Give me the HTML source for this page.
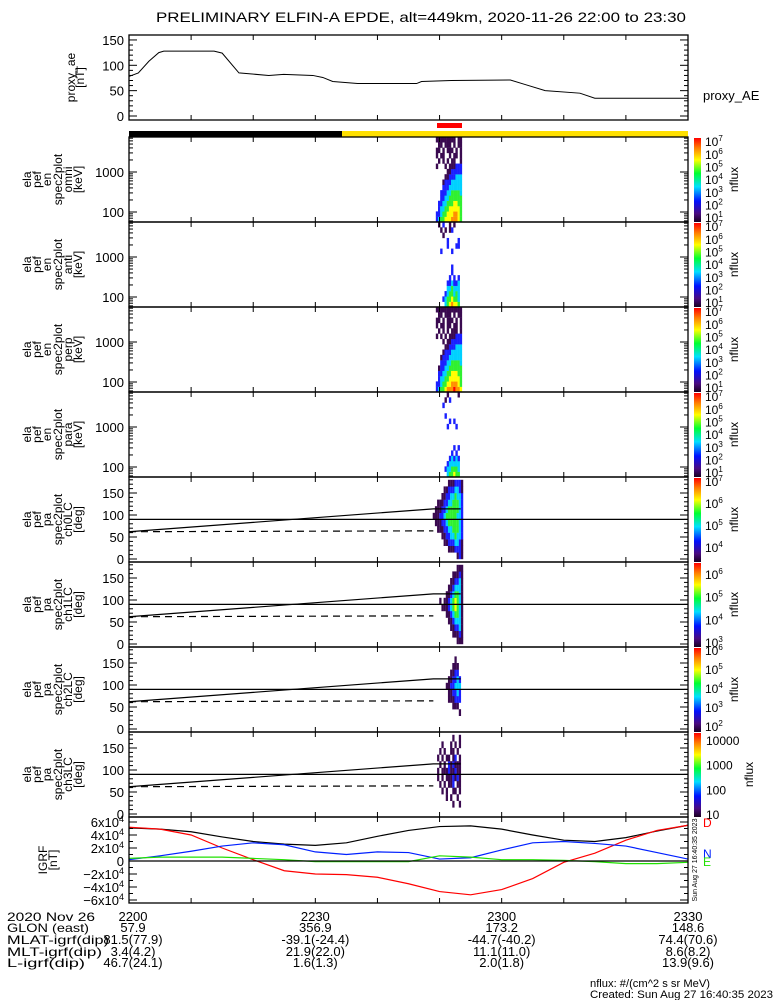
<!DOCTYPE html>
<html><head><meta charset="utf-8"><style>
html,body{margin:0;padding:0;background:#fff;}
svg{display:block;font-family:"Liberation Sans",sans-serif;}
</style></head><body>
<svg id="chart" width="775" height="1000" viewBox="0 0 775 1000" xmlns="http://www.w3.org/2000/svg">
<defs>
<linearGradient id="cbar" x1="0" y1="1" x2="0" y2="0">
<stop offset="0" stop-color="#1a0020"/><stop offset="0.1" stop-color="#4a0a80"/><stop offset="0.25" stop-color="#0010ff"/><stop offset="0.42" stop-color="#00e0ff"/><stop offset="0.58" stop-color="#00ff30"/><stop offset="0.74" stop-color="#ffff00"/><stop offset="0.88" stop-color="#ff8000"/><stop offset="1" stop-color="#ff0000"/>
</linearGradient>
</defs>
</svg>
<script>
// ---------- data ----------
const aeTimes=[0,1.5,3.2,4.8,5.6,13.7,15,17.7,22.5,24.9,29.6,31.2,32.8,36.8,46.3,47.1,51.9,61.4,63.8,67,72.6,75,90];
const aeValues=[78,85,108,125,128,128,124,85,80,82,80,76,68,64,64,68,70,71,62,50,45,35,35];
const igrfTimes=[0,5,10,15,20,25,30,35,40,45,50,55,60,65,70,75,80,85,90];
const igrfBlack=[51,49,45,37,30,26,24,28,38,47,53,54,49,40,32,30,36,46,55];
const igrfRed=[52,49,40,20,2,-15,-20,-21,-25,-35,-47,-52,-44,-27,-2,12,32,47,55];
const igrfBlue=[2,8,15,23,28,25,14,10,14,13,3,5,17,28,30,27,23,13,3];
const igrfGreen=[4,6,6,6,4,2,-1,-1,-1,-1,8,6,2,2,1,-1,-4,-4,-2];
const enColTimes=[49.4,49.75,50.1,50.45,50.8,51.15,51.5,51.85,52.2,52.55,52.9,53.25];
const paColTimes=[48.9,49.25,49.6,49.95,50.3,50.65,51.0,51.35,51.7,52.05,52.4,52.75,53.1,53.45];
const specOmni=["234455566654","223445556654","023344555554","022334445544","002233444444","002223344443","000222333333","000122233333","000011222333","000001122222","100010111222","010101011001","101100101101","110101110101","011011101011","111111111011"];
const specAnti=["000034565540","000234454430","000023443430","000003343330","000002232230","000000202020","000000020000","000000020000","000000000000","000000000000","002000020000","000002000220","000002000020","000100000000","001010120000","010200101000"];
const specPerp=["234456667665","223445566654","023344555554","022334455544","012233444444","002223344443","001222333333","000122233333","000011222333","000101122222","101010111222","010101011101","101101101101","110101110101","011011101011","111111111111"];
const specPara=["000003445440","000023344430","000002333330","000000232320","000000020200","000000002020","000000000000","000000000000","000000000000","000002000200","000000202000","000020000000","000000000000","000200000000","000010200000","000001000010"];
const paCh0=["00000000000121","00000001112221","00000112223321","00001122334332","00111223344432","01112234444432","11122344444332","01112234444432","00111223344432","00001122334332","00000112223321","00000001112221"];
const paCh1=["00000000000111","00000000011121","00000000112231","00000001123331","00000011234431","00001112345431","00010112345431","00000011234431","00000001123331","00000000112231","00000000011121","00000000000111"];
const paCh2=["00000000000000","00000000000000","00000000000010","00000000011100","00000001112220","00000001122320","00000011223330","00000001122320","00000000112200","00000000011100","00000000001000","00000000000000"];
const paCh3=["00000000000000","00000000010010","00000010100100","00001010011010","00010101120110","00101011121210","00101112112110","00010102121110","00101011012010","00010100110100","00001000101010","00000000010010"];
const paSolidTimes=[0,49,53.4];
const paSolidValues=[62,114,114];
const paDashTimes=[0,49];
const paDashValues=[62,64];
const xTickLabels=["2200","2230","2300","2330"];
const xTickTimes=[0,30,60,90];
const glon=["57.9","356.9","173.2","148.6"];
const mlat=["81.5(77.9)","-39.1(-24.4)","-44.7(-40.2)","74.4(70.6)"];
const mlt=["3.4(4.2)","21.9(22.0)","11.1(11.0)","8.6(8.2)"];
const lval=["46.7(24.1)","1.6(1.3)","2.0(1.8)","13.9(9.6)"];
const cbRanges=[[0.7,7.4],[0.7,7.4],[0.7,7.4],[0.7,7.4],[3.36,7.23],[2.82,6.57],[1.74,6.2],[0.92,4.36]];
const cbExps=[[1,2,3,4,5,6,7],[1,2,3,4,5,6,7],[1,2,3,4,5,6,7],[1,2,3,4,5,6,7],[4,5,6,7],[3,4,5,6],[2,3,4,5,6],[1,2,3,4]];

// ---------- helpers ----------
const NS='http://www.w3.org/2000/svg';
const svg=document.getElementById('chart');
function mk(tag,attrs,parent){const e=document.createElementNS(NS,tag);for(const k in attrs)e.setAttribute(k,attrs[k]);(parent||svg).appendChild(e);return e;}
function nm(el,name){
  
  
  return el;
}
const X0=129,X1=688;
const xT=t=>X0+t/90*(X1-X0);
const COLORS=['none','#3a0a50','#1a20ff','#00d0ff','#30f030','#ffff00','#ff9000','#ff0000'];
function txt(x,y,s,size,anchor,name,extra){const e=mk('text',Object.assign({x:x,y:y,'font-size':size,'text-anchor':anchor||'start',fill:'#000'},extra||{}));e.textContent=s;nm(e,name);return e;}
function rotLabels(lines,xs,cy,name){lines.forEach((s,i)=>{const e=mk('text',{x:0,y:0,'font-size':12,'text-anchor':'middle',transform:`translate(${xs[i]+4},${cy}) rotate(-90)`});e.textContent=s;nm(e,name+'-line');});}
function xTicks(top,bot){for(let t=0;t<=90;t+=10){const x=xT(t);nm(mk('line',{x1:x,x2:x,y1:bot,y2:bot-5,stroke:'#000'}),'x-tick');nm(mk('line',{x1:x,x2:x,y1:top,y2:top+5,stroke:'#000'}),'x-tick');}}
function yTick(y,len){nm(mk('line',{x1:X0,x2:X0+len,y1:y,y2:y,stroke:'#000'}),'y-tick-left');nm(mk('line',{x1:X1,x2:X1-len,y1:y,y2:y,stroke:'#000'}),'y-tick-right');}
function frame(top,bot,name){nm(mk('rect',{x:X0,y:top,width:X1-X0,height:bot-top,fill:'none',stroke:'#000','stroke-width':1.3}),name+'-frame');}
function colorbar(i,top,bot){
  nm(mk('rect',{x:694,y:top+1,width:7,height:bot-top-1,fill:'url(#cbar)'}),'colorbar');
  const r=cbRanges[i];const yv=v=>bot-(v-r[0])/(r[1]-r[0])*(bot-top);
  cbExps[i].forEach(k=>{const y=yv(k)+4;
    if(i===7){txt(706,y,String(Math.pow(10,k)),12,'start','colorbar-label');}
    else{const e=mk('text',{x:705,y:y,'font-size':12});nm(e,'colorbar-label');e.textContent='10';const s=mk('tspan',{dy:-5,'font-size':8},e);s.textContent=String(k);}
  });
  const e=mk('text',{x:0,y:0,'font-size':12,'text-anchor':'middle',transform:`translate(${i===7?753:738},${(top+bot)/2}) rotate(-90)`});e.textContent='nflux';nm(e,'colorbar-title');
}

// ---------- title ----------
txt(421,22,'PRELIMINARY ELFIN-A EPDE, alt=449km, 2020-11-26 22:00 to 23:30',14,'middle','chart-title',{textLength:530,lengthAdjust:'spacingAndGlyphs'});

// ---------- proxy AE ----------
(function(){const top=35,bot=120;const yv=v=>116-v*0.507;
  frame(top,bot,'proxy-ae');xTicks(top,bot);
  for(let v=0;v<=150;v+=10)yTick(yv(v),v%50===0?8:4);
  [0,50,100,150].forEach(v=>txt(124,yv(v)+5,String(v),13,'end','proxy-ae-y-label'));
  const pts=aeTimes.map((t,i)=>xT(t)+','+yv(aeValues[i])).join(' ');
  nm(mk('polyline',{points:pts,fill:'none',stroke:'#000','stroke-width':1}),'proxy-ae-line');
  rotLabels(['proxy_ae','[nT]'],[71,80],(top+bot)/2,'proxy-ae-axis-title');
  txt(703,100,'proxy_AE',13,'start','proxy-ae-legend');
})();

// ---------- orbit bars ----------
nm(mk('rect',{x:437,y:123,width:25,height:5,fill:'#ff0000'}),'science-zone-marker');
nm(mk('rect',{x:X0,y:131,width:342-X0,height:6,fill:'#000'}),'orbit-shadow-bar');
nm(mk('rect',{x:342,y:131,width:X1-342,height:6,fill:'#ffe000'}),'orbit-sunlit-bar');

// ---------- energy spectrograms ----------
const enSets=[[specOmni,'omni'],[specAnti,'anti'],[specPerp,'perp'],[specPara,'para']];
enSets.forEach((set,pi)=>{
  const top=137+pi*85,bot=top+85;const lmin=1.75,dec=40;
  const yE=l=>bot-(l-lmin)*dec;
  const nb=set[0].length,bw=(3.875-lmin)/nb;
  set[0].forEach((row,b)=>{for(let c=0;c<row.length;c++){const lv=+row[c];if(!lv)continue;
    const x=xT(enColTimes[c]);const y1=yE(lmin+(b+1)*bw),y0=yE(lmin+b*bw);
    const r=mk('rect',{x:x,y:y1,width:xT(enColTimes[c]+0.35)-x+0.2,height:y0-y1+0.2,fill:COLORS[lv]});
    
    }});
  frame(top,bot,'energy-'+set[1]);xTicks(top,bot);
  for(let d=1;d<=3;d++)for(let m=1;m<=9;m++){const l=d+Math.log10(m);if(l<lmin||l>3.875)continue;yTick(yE(l),m===1?8:4);}
  txt(124,yE(2)+5,'100',13,'end','energy-y-label');txt(124,yE(3)+5,'1000',13,'end','energy-y-label');
  rotLabels(['ela','pef','en','spec2plot',set[1],'[keV]'],[27,37,47,58,68,78],(top+bot)/2,'energy-axis-title');
  colorbar(pi,top,bot);
});

// ---------- pitch-angle spectrograms ----------
const paSets=[[paCh0,'ch0LC'],[paCh1,'ch1LC'],[paCh2,'ch2LC'],[paCh3,'ch3LC']];
paSets.forEach((set,pi)=>{
  const top=477+pi*85,bot=top+85;const yP=p=>bot-3-p*0.44;
  set[0].forEach((row,b)=>{for(let c=0;c<row.length;c++){const lv=+row[c];if(!lv)continue;
    const x=xT(paColTimes[c]);const y1=yP((b+1)*15),y0=yP(b*15);
    const r=mk('rect',{x:x,y:y1,width:xT(paColTimes[c]+0.33)-x+0.2,height:y0-y1+0.2,fill:COLORS[lv]});
    
    }});
  nm(mk('line',{x1:X0,x2:X1,y1:yP(90),y2:yP(90),stroke:'#000','stroke-width':1.2}),'pa-90-line');
  nm(mk('polyline',{points:paSolidTimes.map((t,i)=>xT(t)+','+yP(paSolidValues[i])).join(' '),fill:'none',stroke:'#000','stroke-width':1.2}),'loss-cone-line');
  nm(mk('polyline',{points:paDashTimes.map((t,i)=>xT(t)+','+yP(paDashValues[i])).join(' '),fill:'none',stroke:'#000','stroke-width':1.2,'stroke-dasharray':'7,5'}),'anti-loss-cone-line');
  frame(top,bot,'pa-'+set[1]);xTicks(top,bot);
  for(let p=0;p<=180;p+=10)yTick(yP(p),p%50===0?8:4);
  [0,50,100,150].forEach(p=>txt(124,yP(p)+5,String(p),13,'end','pa-y-label'));
  rotLabels(['ela','pef','pa','spec2plot',set[1],'[deg]'],[27,37,47,58,68,78],(top+bot)/2,'pa-axis-title');
  colorbar(4+pi,top,bot);
});

// ---------- IGRF ----------
(function(){const top=817,bot=903;const yv=v=>861-v*0.65;
  [[igrfBlack,'#000','igrf-total'],[igrfRed,'#ff0000','igrf-d'],[igrfBlue,'#0020ff','igrf-n'],[igrfGreen,'#20e000','igrf-e']].forEach(s=>{
    nm(mk('polyline',{points:igrfTimes.map((t,i)=>xT(t)+','+yv(s[0][i])).join(' '),fill:'none',stroke:s[1],'stroke-width':1.2}),s[2]+'-line');});
  nm(mk('line',{x1:X0,x2:X1,y1:yv(0),y2:yv(0),stroke:'#000','stroke-width':1.2}),'igrf-zero-line');
  frame(top,bot,'igrf');xTicks(top,bot);
  for(let v=-60;v<=60;v+=10)yTick(yv(v),v%20===0?8:4);
  [-6,-4,-2,0,2,4,6].forEach(k=>{const y=yv(k*10)+5;
    if(k===0){txt(124,y,'0',13,'end','igrf-y-label');return;}
    const e=mk('text',{x:124,y:y,'font-size':13,'text-anchor':'end'});nm(e,'igrf-y-label');
    e.appendChild(document.createTextNode((k<0?'\u2212':'')+Math.abs(k)+'x10'));const s=mk('tspan',{dy:-5,'font-size':9},e);s.textContent='4';});
  rotLabels(['IGRF','[nT]'],[43,53],(top+bot)/2,'igrf-axis-title');
  txt(703,827,'D',12,'start','igrf-legend-d',{fill:'#ff0000'});
  txt(703,858,'N',12,'start','igrf-legend-n',{fill:'#0020ff'});
  txt(703,866,'E',12,'start','igrf-legend-e',{fill:'#20e000'});
  const st=mk('text',{x:0,y:0,'font-size':7,'text-anchor':'middle',transform:'translate(697,860) rotate(-90)'});st.textContent='Sun Aug 27 16:40:35 2023';nm(st,'timestamp-vertical');
})();

// ---------- footer ----------
const rowsY=[921,932,944,956,967];
txt(7,rowsY[0],'2020 Nov 26',12,'start','date-label',{textLength:88,lengthAdjust:'spacingAndGlyphs'});
txt(7,rowsY[1],'GLON (east)',12,'start','glon-label',{textLength:82,lengthAdjust:'spacingAndGlyphs'});
txt(7,rowsY[2],'MLAT-igrf(dip)',12,'start','mlat-label',{textLength:102,lengthAdjust:'spacingAndGlyphs'});
txt(7,rowsY[3],'MLT-igrf(dip)',12,'start','mlt-label',{textLength:95,lengthAdjust:'spacingAndGlyphs'});
txt(7,rowsY[4],'L-igrf(dip)',12,'start','l-label',{textLength:78,lengthAdjust:'spacingAndGlyphs'});
xTickTimes.forEach((t,i)=>{const x=xT(t)+(i===0?4:0);
  txt(x,rowsY[0],xTickLabels[i],13,'middle','x-tick-label');
  txt(x,rowsY[1],glon[i],13,'middle','glon-value');
  txt(x,rowsY[2],mlat[i],13,'middle','mlat-value');
  txt(x,rowsY[3],mlt[i],13,'middle','mlt-value');
  txt(x,rowsY[4],lval[i],13,'middle','l-value');
});
txt(590,987,'nflux: #/(cm^2 s sr MeV)',11,'start','units-note',{textLength:120,lengthAdjust:'spacingAndGlyphs'});
txt(590,998,'Created: Sun Aug 27 16:40:35 2023',11,'start','created-note',{textLength:183,lengthAdjust:'spacingAndGlyphs'});
</script>
</body></html>
